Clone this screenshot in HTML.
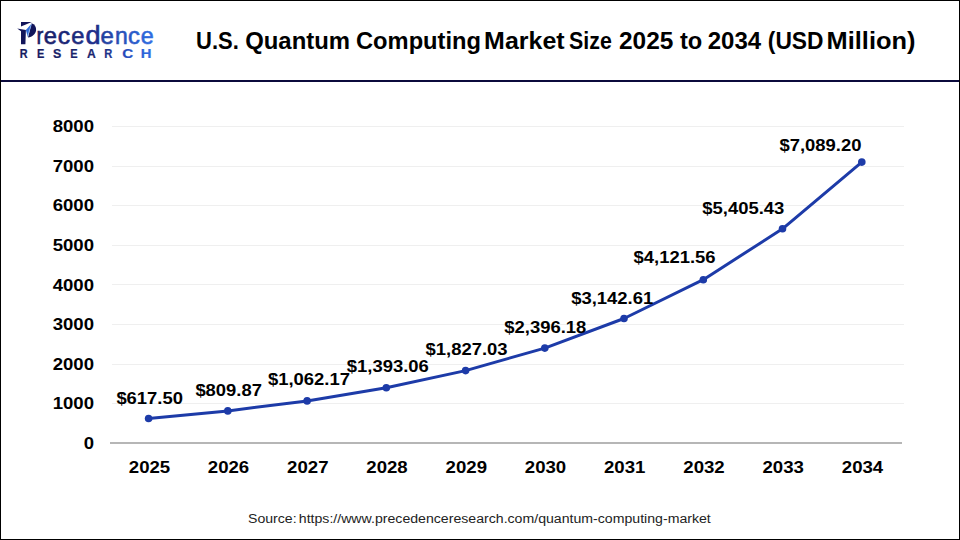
<!DOCTYPE html>
<html><head><meta charset="utf-8">
<style>
html,body{margin:0;padding:0;background:#fff;}
body{width:960px;height:540px;overflow:hidden;}
svg{display:block;}
text{font-family:"Liberation Sans",Arial,sans-serif;}
</style></head>
<body>
<svg width="960" height="540" viewBox="0 0 960 540">
<defs>
<linearGradient id="lg" x1="20" y1="0" x2="155" y2="0" gradientUnits="userSpaceOnUse">
<stop offset="0" stop-color="#14185a"/><stop offset="0.45" stop-color="#1b2a80"/><stop offset="1" stop-color="#2f6fe6"/>
</linearGradient>
<linearGradient id="lg2" x1="20" y1="0" x2="152" y2="0" gradientUnits="userSpaceOnUse">
<stop offset="0" stop-color="#161a5e"/><stop offset="0.6" stop-color="#1c2570"/><stop offset="0.78" stop-color="#2548b8"/><stop offset="1" stop-color="#2f6ce4"/>
</linearGradient>
</defs>
<rect x="0" y="0" width="960" height="540" fill="#fff"/>
<!-- logo -->
<g>
<path d="M21.0,21.9 L31.8,22.1 L21.0,26.6 Z" fill="#11145a"/>
<path d="M17.2,28.6 L25.9,30.0 L25.4,44.3 L21.0,44.3 L21.0,31.3 Z" fill="#11145a"/>
<path d="M31.6,23.3 C34.6,24.1 36.3,26.8 36.1,30.0 C35.8,34.0 32.2,36.9 28.0,37.5 Z" fill="#11145a"/>
<path d="M31.7,23.5 L25.9,30.1 L27.7,37.1 Z" fill="#2f6bd9"/>
<path d="M31.4,24.2 L27.6,36.4" stroke="#a3c4f4" stroke-width="0.6" fill="none"/>
<g font-size="24" fill="url(#lg)" stroke="url(#lg)" stroke-width="0.6">
<text x="36.40" y="44.3" textLength="6.80" lengthAdjust="spacingAndGlyphs">r</text>
<text x="43.76" y="44.3" textLength="13.19" lengthAdjust="spacingAndGlyphs">e</text>
<text x="57.77" y="44.3" textLength="12.33" lengthAdjust="spacingAndGlyphs">c</text>
<text x="71.26" y="44.3" textLength="13.19" lengthAdjust="spacingAndGlyphs">e</text>
<text transform="translate(85.47,44.3) scale(1,1.1)" x="0" y="0" fill="#1f2f8c" stroke="#1f2f8c" textLength="15.06" lengthAdjust="spacingAndGlyphs">d</text>
<text x="100.60" y="44.3" textLength="13.36" lengthAdjust="spacingAndGlyphs">e</text>
<text x="114.95" y="44.3" textLength="12.75" lengthAdjust="spacingAndGlyphs">n</text>
<text x="128.01" y="44.3" textLength="11.89" lengthAdjust="spacingAndGlyphs">c</text>
<text x="140.78" y="44.3" textLength="12.97" lengthAdjust="spacingAndGlyphs">e</text>
</g>
<g font-size="12.4" font-weight="bold" fill="url(#lg2)" stroke="url(#lg2)" stroke-width="0.2">
<text x="19.82" y="57.8" textLength="7.83" lengthAdjust="spacingAndGlyphs">R</text>
<text x="37.01" y="57.8" textLength="7.32" lengthAdjust="spacingAndGlyphs">E</text>
<text x="52.90" y="57.8" textLength="8.27" lengthAdjust="spacingAndGlyphs">S</text>
<text x="70.21" y="57.8" textLength="7.32" lengthAdjust="spacingAndGlyphs">E</text>
<text x="86.90" y="57.8" textLength="8.75" lengthAdjust="spacingAndGlyphs">A</text>
<text x="104.30" y="57.8" textLength="8.06" lengthAdjust="spacingAndGlyphs">R</text>
<text x="122.30" y="57.8" textLength="10.97" lengthAdjust="spacingAndGlyphs">C</text>
<text x="140.80" y="57.8" textLength="10.74" lengthAdjust="spacingAndGlyphs">H</text>
</g>
</g>
<!-- title -->
<g font-size="23.3" font-weight="bold" fill="#000" lengthAdjust="spacingAndGlyphs">
<text y="48.8" lengthAdjust="spacingAndGlyphs" x="196.1" textLength="42.7">U.S.</text>
<text y="48.8" lengthAdjust="spacingAndGlyphs" x="245.2" textLength="104.8">Quantum</text>
<text y="48.8" lengthAdjust="spacingAndGlyphs" x="356.0" textLength="125.0">Computing</text>
<text y="48.8" lengthAdjust="spacingAndGlyphs" x="484.1" textLength="80.5">Market</text>
<text y="48.8" lengthAdjust="spacingAndGlyphs" x="569.1" textLength="42.7">Size</text>
<text y="48.8" lengthAdjust="spacingAndGlyphs" x="619.0" textLength="54.4">2025</text>
<text y="48.8" lengthAdjust="spacingAndGlyphs" x="680.0" textLength="22.3">to</text>
<text y="48.8" lengthAdjust="spacingAndGlyphs" x="707.7" textLength="53.4">2034</text>
<text y="48.8" lengthAdjust="spacingAndGlyphs" x="767.8" textLength="55.7">(USD</text>
<text y="48.8" lengthAdjust="spacingAndGlyphs" x="826.6" textLength="88.8">Million)</text>
</g>
<!-- header line -->
<rect x="0" y="80" width="960" height="2" fill="#0b0a3c"/>
<!-- gridlines -->
<g fill="#efefef">
<rect x="112" y="126" width="792" height="1"/>
<rect x="112" y="166" width="792" height="1"/>
<rect x="112" y="205" width="792" height="1"/>
<rect x="112" y="245" width="792" height="1"/>
<rect x="112" y="284" width="792" height="1"/>
<rect x="112" y="324" width="792" height="1"/>
<rect x="112" y="364" width="792" height="1"/>
<rect x="112" y="403" width="792" height="1"/>
</g>
<rect x="110" y="442" width="792" height="2" fill="#b6b6b6"/>
<!-- y labels -->
<g font-size="16.3" font-weight="bold" fill="#000" text-anchor="end">
<text x="94" y="131.6" textLength="41.3" lengthAdjust="spacingAndGlyphs">8000</text>
<text x="94" y="171.6" textLength="41.3" lengthAdjust="spacingAndGlyphs">7000</text>
<text x="94" y="211.2" textLength="41.3" lengthAdjust="spacingAndGlyphs">6000</text>
<text x="94" y="250.8" textLength="41.3" lengthAdjust="spacingAndGlyphs">5000</text>
<text x="94" y="290.5" textLength="41.3" lengthAdjust="spacingAndGlyphs">4000</text>
<text x="94" y="330.1" textLength="41.3" lengthAdjust="spacingAndGlyphs">3000</text>
<text x="94" y="369.7" textLength="41.3" lengthAdjust="spacingAndGlyphs">2000</text>
<text x="94" y="409.4" textLength="41.3" lengthAdjust="spacingAndGlyphs">1000</text>
<text x="94" y="449" textLength="10.3" lengthAdjust="spacingAndGlyphs">0</text>
</g>
<!-- x labels -->
<g font-size="16.3" font-weight="bold" fill="#000" text-anchor="middle">
<text x="149.5" y="473" textLength="41.4" lengthAdjust="spacingAndGlyphs">2025</text>
<text x="228.5" y="473" textLength="41.4" lengthAdjust="spacingAndGlyphs">2026</text>
<text x="307.8" y="473" textLength="41.4" lengthAdjust="spacingAndGlyphs">2027</text>
<text x="387" y="473" textLength="41.4" lengthAdjust="spacingAndGlyphs">2028</text>
<text x="466.3" y="473" textLength="41.4" lengthAdjust="spacingAndGlyphs">2029</text>
<text x="545.5" y="473" textLength="41.4" lengthAdjust="spacingAndGlyphs">2030</text>
<text x="624.7" y="473" textLength="41.4" lengthAdjust="spacingAndGlyphs">2031</text>
<text x="704" y="473" textLength="41.4" lengthAdjust="spacingAndGlyphs">2032</text>
<text x="783.2" y="473" textLength="41.4" lengthAdjust="spacingAndGlyphs">2033</text>
<text x="862.5" y="473" textLength="41.4" lengthAdjust="spacingAndGlyphs">2034</text>
</g>
<!-- line -->
<polyline points="148.6,418.5 227.8,410.9 307.1,400.9 386.3,387.8 465.6,370.6 544.8,348.1 624.0,318.5 703.3,279.7 782.5,228.8 861.8,162.1" fill="none" stroke="#1d3ba8" stroke-width="3" stroke-linejoin="round"/>
<g fill="#1d3ba8">
<circle cx="148.6" cy="418.5" r="3.8"/><circle cx="227.8" cy="410.9" r="3.8"/><circle cx="307.1" cy="400.9" r="3.8"/><circle cx="386.3" cy="387.8" r="3.8"/><circle cx="465.6" cy="370.6" r="3.8"/><circle cx="544.8" cy="348.1" r="3.8"/><circle cx="624.0" cy="318.5" r="3.8"/><circle cx="703.3" cy="279.7" r="3.8"/><circle cx="782.5" cy="228.8" r="3.8"/><circle cx="861.8" cy="162.1" r="3.8"/>
</g>
<!-- data labels -->
<g font-size="16.3" font-weight="bold" fill="#000">
<text x="116.4" y="403.5" textLength="66.5" lengthAdjust="spacingAndGlyphs">$617.50</text>
<text x="195.4" y="395.5" textLength="66.5" lengthAdjust="spacingAndGlyphs">$809.87</text>
<text x="268.0" y="385" textLength="82.0" lengthAdjust="spacingAndGlyphs">$1,062.17</text>
<text x="346.8" y="372.3" textLength="82.0" lengthAdjust="spacingAndGlyphs">$1,393.06</text>
<text x="425.6" y="355" textLength="82.0" lengthAdjust="spacingAndGlyphs">$1,827.03</text>
<text x="504.3" y="333.4" textLength="82.0" lengthAdjust="spacingAndGlyphs">$2,396.18</text>
<text x="571.2" y="303.8" textLength="82.0" lengthAdjust="spacingAndGlyphs">$3,142.61</text>
<text x="633.6" y="263.4" textLength="82.0" lengthAdjust="spacingAndGlyphs">$4,121.56</text>
<text x="702.3" y="214.4" textLength="82.0" lengthAdjust="spacingAndGlyphs">$5,405.43</text>
<text x="779.4" y="150.8" textLength="82.0" lengthAdjust="spacingAndGlyphs">$7,089.20</text>
</g>
<!-- source -->
<g font-size="12" fill="#222"><text x="248.0" y="522.8" textLength="48.6" lengthAdjust="spacingAndGlyphs">Source:</text><text x="298.8" y="522.8" textLength="412.0" lengthAdjust="spacingAndGlyphs">https://www.precedenceresearch.com/quantum-computing-market</text></g>
<!-- border -->
<rect x="0.5" y="0.5" width="959" height="539" fill="none" stroke="#000" stroke-width="1"/>
</svg>
</body></html>
